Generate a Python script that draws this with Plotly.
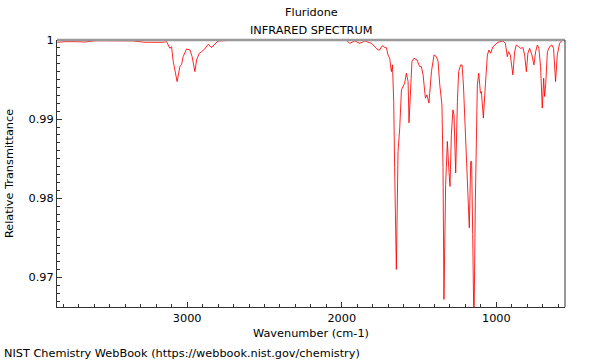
import plotly.graph_objects as go

wavenumber = [
    3840, 3790, 3726, 3661, 3584, 3500, 3435, 3351, 3273, 3209, 3157, 3133,
    3112, 3101, 3090, 3065, 3047, 3036, 3026, 3004, 2982, 2968, 2950, 2939,
    2922, 2907, 2886, 2864, 2842, 2827, 2800, 2724, 2530, 2336, 2142, 1970,
    1948, 1916, 1884, 1851, 1808, 1765, 1754, 1743, 1733, 1722, 1711, 1701,
    1690, 1679, 1672, 1664, 1658, 1647, 1636, 1625, 1614, 1604, 1593, 1582,
    1571, 1565, 1556, 1546, 1533, 1513, 1496, 1485, 1474, 1459, 1449, 1436,
    1420, 1403, 1388, 1377, 1366, 1352, 1345, 1339, 1328, 1317, 1308, 1300,
    1291, 1281, 1274, 1263, 1252, 1244, 1231, 1222, 1213, 1200, 1190, 1181,
    1175, 1166, 1160, 1153, 1145, 1136, 1129, 1123, 1114, 1103, 1097, 1084,
    1071, 1058, 1048, 1037, 1022, 1011, 1000, 990, 957, 942, 929, 921, 910,
    893, 882, 871, 856, 843, 828, 817, 806, 796, 785, 770, 757, 746, 735,
    725, 714, 703, 694, 688, 681, 670, 656, 641, 630, 617, 606, 591, 573, 558,
]

transmittance = [
    0.99971, 0.99979, 0.99979, 0.99975, 0.99991, 0.99989, 0.99991, 0.99988, 0.99971, 0.99970, 0.99971, 0.99979,
    0.99895, 0.99916, 0.99726, 0.99474, 0.99663, 0.99694, 0.99789, 0.99887, 0.99874, 0.99789, 0.99600, 0.99748,
    0.99832, 0.99852, 0.99887, 0.99946, 0.99903, 0.99937, 0.99987, 0.99995, 0.99993, 0.99995, 0.99996, 0.99995,
    0.99958, 0.99987, 0.99958, 0.99987, 0.99958, 0.99874, 0.99874, 0.99916, 0.99928, 0.99903, 0.99903, 0.99811,
    0.99769, 0.99600, 0.99685, 0.99222, 0.98386, 0.97100, 0.98591, 0.98890, 0.99370, 0.99411, 0.99454, 0.99580,
    0.99474, 0.98953, 0.99306, 0.99726, 0.99769, 0.99748, 0.99663, 0.99663, 0.99559, 0.99265, 0.99306, 0.99202,
    0.99600, 0.99811, 0.99789, 0.99726, 0.99433, 0.99180, 0.98386, 0.96721, 0.98172, 0.98718, 0.98386, 0.98150,
    0.98802, 0.99117, 0.99054, 0.98319, 0.99222, 0.99600, 0.99685, 0.99685, 0.99433, 0.98802, 0.98172, 0.97961,
    0.97626, 0.98465, 0.98465, 0.97541, 0.96300, 0.97961, 0.99013, 0.99433, 0.99580, 0.99328, 0.99348, 0.99013,
    0.99433, 0.99811, 0.99874, 0.99832, 0.99916, 0.99937, 0.99958, 0.99971, 0.99987, 0.99958, 0.99789, 0.99852,
    0.99811, 0.99559, 0.99852, 0.99937, 0.99916, 0.99895, 0.99903, 0.99811, 0.99600, 0.99832, 0.99895, 0.99811,
    0.99685, 0.99852, 0.99937, 0.99895, 0.99663, 0.99139, 0.99517, 0.99285, 0.99433, 0.99852, 0.99916, 0.99937,
    0.99895, 0.99474, 0.99811, 0.99958, 1.00000, 0.99987,
]

x_ticks = [3000, 2000, 1000]
x_tick_labels = ["3000", "2000", "1000"]
y_ticks = [1.0, 0.99, 0.98, 0.97]
y_tick_labels = ["1", "0.99", "0.98", "0.97"]

title_line1 = "Fluridone"
title_line2 = "INFRARED SPECTRUM"
x_title = "Wavenumber (cm-1)"
y_title = "Relative Transmittance"
footer = "NIST Chemistry WebBook (https://webbook.nist.gov/chemistry)"

FONT = "DejaVu Sans"
FS = 11.3

fig = go.Figure()
fig.add_trace(go.Scatter(
    x=wavenumber, y=transmittance, mode="lines",
    line=dict(color="rgba(255,0,0,0.85)", width=1),
    hoverinfo="skip", showlegend=False,
))

axis_common = dict(
    showgrid=False, zeroline=False, showline=True, linecolor="#333333", linewidth=1,
    ticks="inside", ticklen=5, tickcolor="#333333", tickwidth=1, automargin=False,
    tickfont=dict(family=FONT, size=FS, color="black"),
)

fig.update_xaxes(
    range=[3842, 556], tickvals=x_ticks, ticktext=x_tick_labels,
    title=dict(text=x_title, font=dict(family=FONT, size=FS, color="black"), standoff=5),
    minor=dict(dtick=100, tick0=0, ticks="inside", ticklen=3, tickcolor="#333333", showgrid=False),
    **axis_common,
)
fig.update_yaxes(
    range=[0.96625, 1.0], tickvals=y_ticks, ticktext=y_tick_labels,
    title=dict(text=y_title, font=dict(family=FONT, size=FS, color="black"), standoff=12),
    minor=dict(dtick=0.001, tick0=0, ticks="inside", ticklen=3, tickcolor="#333333", showgrid=False),
    **axis_common,
)

fig.add_shape(type="line", xref="paper", yref="paper", x0=0, x1=1, y0=1, y1=1,
              line=dict(color="#999999", width=2.5))
fig.add_shape(type="line", xref="paper", yref="paper", x0=1, x1=1, y0=0, y1=1,
              line=dict(color="#333333", width=1))

fig.add_annotation(text=title_line1, xref="paper", yref="paper", x=0.5, y=1, yanchor="middle",
                   yshift=28, showarrow=False, font=dict(family=FONT, size=FS, color="black"))
fig.add_annotation(text=title_line2, xref="paper", yref="paper", x=0.5, y=1, yanchor="middle",
                   yshift=10, showarrow=False, font=dict(family=FONT, size=FS, color="black"))
fig.add_annotation(text=footer, xref="paper", yref="paper", x=0, y=0, xanchor="left",
                   yanchor="middle", xshift=-55, yshift=-46, showarrow=False,
                   font=dict(family=FONT, size=FS, color="black"))

fig.update_layout(
    width=600, height=360,
    margin=dict(l=57, r=35, t=40, b=53),
    plot_bgcolor="white", paper_bgcolor="white",
    font=dict(family=FONT, size=FS, color="black"),
)

fig.write_html("out.html", config={"displayModeBar": False},
               post_script="document.body.style.margin='0';document.body.style.overflow='hidden';")
